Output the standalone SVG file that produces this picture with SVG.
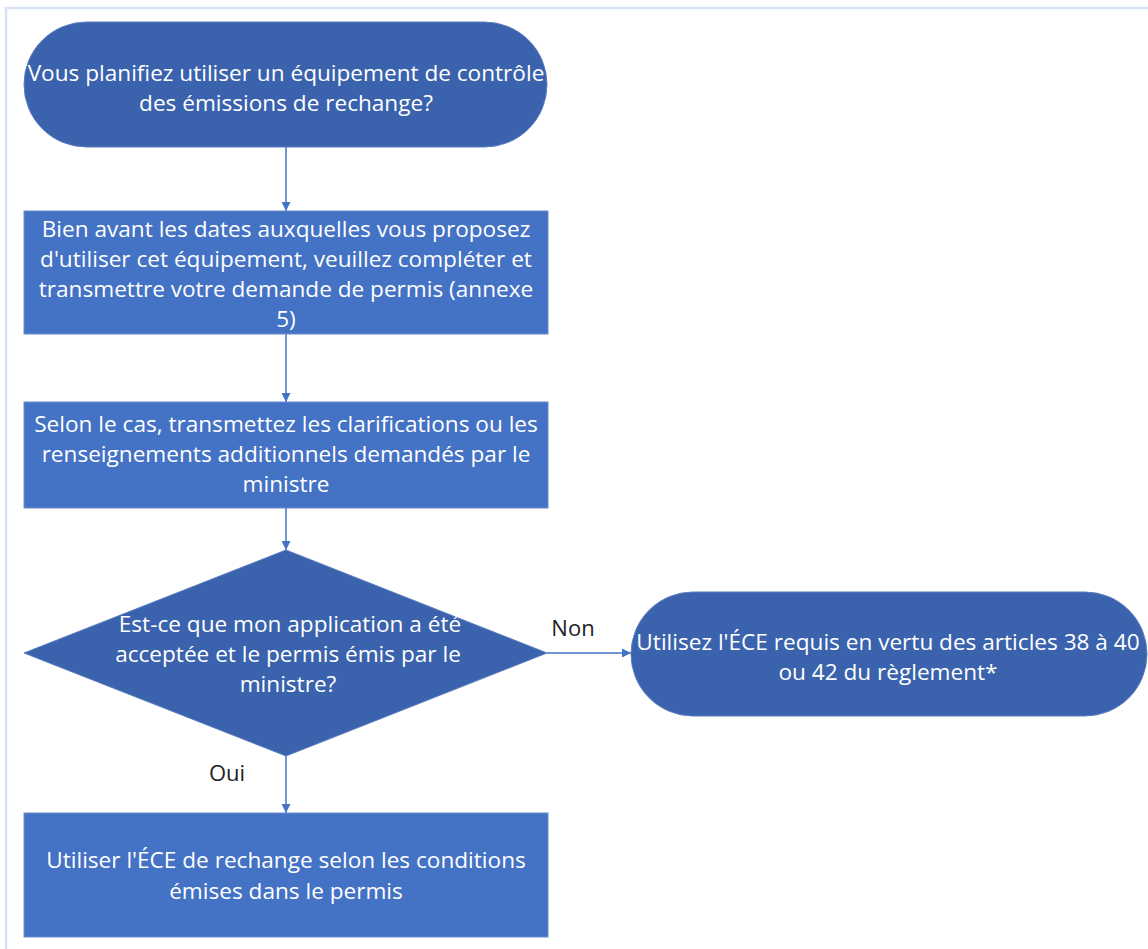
<svg xmlns="http://www.w3.org/2000/svg" width="1148" height="949" viewBox="0 0 1148 949">
<style>
.t{font-family:"Open Sans","Liberation Sans",sans-serif;font-size:22.6px;fill:#ffffff;text-anchor:middle}
.lbl{font-family:"Open Sans","Liberation Sans",sans-serif;font-size:22px;fill:#222222;text-anchor:middle}
.dk{fill:#3B63AD;stroke:#5a7cbf;stroke-width:1}
.bx{fill:#4472C4;stroke:#6a8ccc;stroke-width:1}
.ln{stroke:#4472C4;stroke-width:1.5;fill:none}
</style>
<defs>
<marker id="ah" viewBox="0 0 10 10" refX="10" refY="5" markerWidth="9" markerHeight="9" markerUnits="userSpaceOnUse" orient="auto">
<path d="M0,0 L10,5 L0,10 z" fill="#4472C4"/>
</marker>
</defs>
<rect x="0" y="0" width="1148" height="949" fill="#ffffff"/>
<path d="M6,949 V8 H1148" stroke="#d6e2f1" stroke-width="2.5" fill="none"/>
<g id="connectors">
<line class="ln" x1="286" y1="147" x2="286" y2="211" marker-end="url(#ah)"/>
<line class="ln" x1="286" y1="334" x2="286" y2="402" marker-end="url(#ah)"/>
<line class="ln" x1="286" y1="508" x2="286" y2="550" marker-end="url(#ah)"/>
<line class="ln" x1="547" y1="653" x2="631" y2="653" marker-end="url(#ah)"/>
<line class="ln" x1="286" y1="756" x2="286" y2="813" marker-end="url(#ah)"/>
<text class="lbl" x="573" y="636">Non</text>
<text class="lbl" x="227" y="781">Oui</text>
</g>
<g id="start">
<rect class="dk" x="24" y="22" width="523" height="125" rx="62.5" ry="62.5"/>
<text class="t" x="286" y="81">Vous planifiez utiliser un équipement de contrôle</text>
<text class="t" x="286" y="111">des émissions de rechange?</text>
</g>
<g id="step1">
<rect class="bx" x="24" y="211" width="524" height="123"/>
<text class="t" x="286" y="237">Bien avant les dates auxquelles vous proposez</text>
<text class="t" x="286" y="267">d'utiliser cet équipement, veuillez compléter et</text>
<text class="t" x="286" y="297">transmettre votre demande de permis (annexe</text>
<text class="t" x="286" y="327">5)</text>
</g>
<g id="step2">
<rect class="bx" x="24" y="402" width="524" height="106"/>
<text class="t" x="286" y="432">Selon le cas, transmettez les clarifications ou les</text>
<text class="t" x="286" y="462">renseignements additionnels demandés par le</text>
<text class="t" x="286" y="492">ministre</text>
</g>
<g id="decision">
<polygon class="dk" points="286,550 547,653 286,756 24,653"/>
<text class="t" x="290" y="632">Est-ce que mon application a été</text>
<text class="t" x="288" y="662">acceptée et le permis émis par le</text>
<text class="t" x="288" y="692">ministre?</text>
</g>
<g id="no-end">
<rect class="dk" x="631" y="592" width="516" height="124" rx="62" ry="62"/>
<text class="t" x="888" y="650">Utilisez l'ÉCE requis en vertu des articles 38 à 40</text>
<text class="t" x="888" y="680">ou 42 du règlement*</text>
</g>
<g id="yes-end">
<rect class="bx" x="24" y="813" width="524" height="124"/>
<text class="t" x="286" y="868">Utiliser l'ÉCE de rechange selon les conditions</text>
<text class="t" x="286" y="899">émises dans le permis</text>
</g>
</svg>
